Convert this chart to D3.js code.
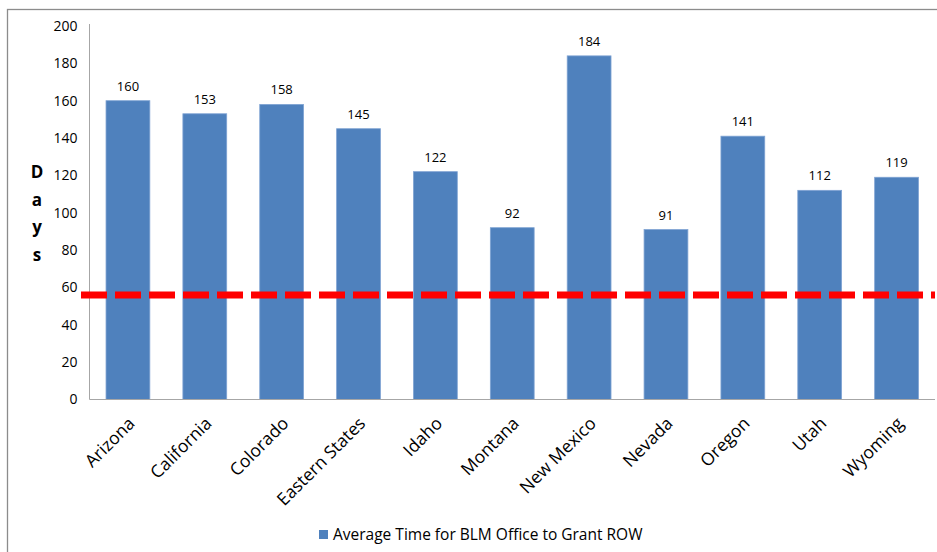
<!DOCTYPE html>
<html><head><meta charset="utf-8">
<script src="https://cdn.jsdelivr.net/npm/d3@7"></script>
<style>body{margin:0;background:#fff}svg{display:block}text{font-family:"Open Sans","Noto Sans",sans-serif;fill:#000}</style>
</head><body><svg id="c" width="937" height="552"></svg>
<script>
const categories=["Arizona","California","Colorado","Eastern States","Idaho","Montana","New Mexico","Nevada","Oregon","Utah","Wyoming"];
const values=[160,153,158,145,122,92,184,91,141,112,119];
const targetValue=56;
const yTicks=[0,20,40,60,80,100,120,140,160,180,200];
const seriesName="Average Time for BLM Office to Grant ROW";
const yTitle=["D","a","y","s"];

const svg=d3.select("#c");
svg.append("rect").attr("x",7.5).attr("y",9.5).attr("width",940).attr("height",560).attr("fill","none").attr("stroke","#8c8c8c").attr("stroke-width",1.3);
const m={l:89.5,r:935,t:26,b:399.5};
const x=d3.scaleBand().domain(categories).range([m.l,m.r]).paddingInner(0.43).paddingOuter(0.215);
const y=d3.scaleLinear().domain([0,200]).range([m.b,m.t]);
const g=svg.append("g");
g.selectAll("rect.bar").data(values).join("rect").attr("class","bar")
 .attr("x",(d,i)=>x(categories[i])).attr("width",x.bandwidth())
 .attr("y",d=>y(d)).attr("height",d=>y(0)-y(d)).attr("fill","#4F81BD").attr("stroke","#7fa3d3").attr("stroke-width",0.8);
g.selectAll("text.val").data(values).join("text").attr("class","val")
 .attr("x",(d,i)=>x(categories[i])+x.bandwidth()/2).attr("y",d=>y(d)-10)
 .attr("text-anchor","middle").attr("font-size",13).text(d=>d);
// axes
const ya=d3.axisLeft(y).tickValues(yTicks).tickSize(0).tickPadding(12);
const yg=svg.append("g").attr("transform",`translate(${m.l},0)`).call(ya);
yg.select(".domain").attr("stroke","#a6a6a6").attr("d",`M0,${y(0)}V${y(200)-2}`);
yg.selectAll("text").attr("font-size",14).attr("font-family","'Open Sans',sans-serif");
const xa=d3.axisBottom(x).tickSize(0).tickPadding(0);
const xg=svg.append("g").attr("transform",`translate(0,${m.b})`).call(xa);
xg.select(".domain").attr("stroke","#a6a6a6").attr("d",`M${m.l},0H${m.r}`);
xg.selectAll("text").attr("font-size",17.5).attr("font-family","'Open Sans',sans-serif")
 .attr("text-anchor","end").attr("dy",0).attr("y",0)
 .attr("transform","translate(8,25) rotate(-45)");
// target line
svg.append("line").attr("x1",81).attr("x2",935).attr("y1",y(targetValue)).attr("y2",y(targetValue))
 .attr("stroke","#ff0000").attr("stroke-width",7).attr("stroke-dasharray","26,8");
// y title
svg.selectAll("text.yt").data(yTitle).join("text").attr("class","yt")
 .attr("x",37).attr("y",(d,i)=>178+i*27.5).attr("text-anchor","middle")
 .attr("font-size",17).attr("font-weight","bold").text(d=>d);
// legend
const lg=svg.append("g");
lg.append("rect").attr("x",319).attr("y",530).attr("width",9).attr("height",9).attr("fill","#4F81BD");
lg.append("text").attr("x",333).attr("y",540).attr("font-size",15.5).text(seriesName);
</script></body></html>
